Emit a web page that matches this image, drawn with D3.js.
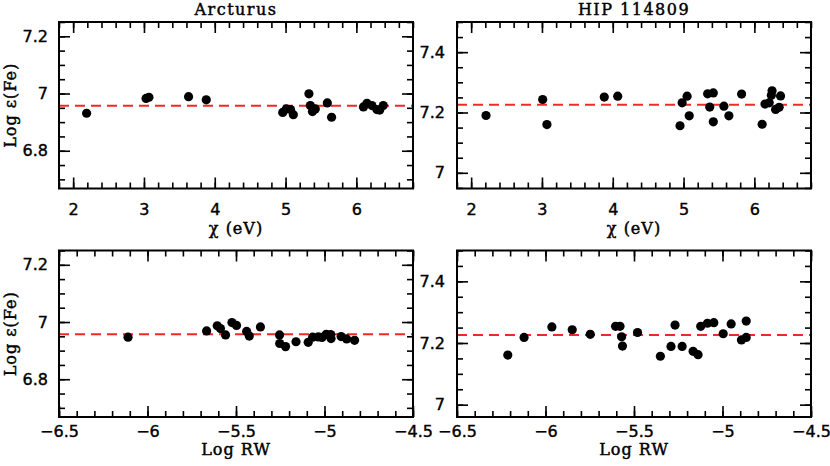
<!DOCTYPE html>
<html>
<head>
<meta charset="utf-8">
<script src="https://cdnjs.cloudflare.com/ajax/libs/d3/7.8.5/d3.min.js"></script>
<style>
  body { margin: 0; background: #fff; }
  .tick text { font-family: "DejaVu Sans", sans-serif; font-size: 16px; fill: #000; stroke: #000; stroke-width: 0.4px; }
  .lbl { font-family: "DejaVu Serif", serif; font-size: 16px; fill: #000; stroke: #000; stroke-width: 0.45px; }
</style>
</head>
<body>
<script>
(function(){

//Arcturus: excitation potential (eV) and Fe abundance
var arctChi   = [2.19, 3.03, 3.07, 3.63, 3.88, 4.96, 5.01, 5.07, 5.11, 5.33, 5.35,
                 5.38, 5.42, 5.59, 5.65, 6.10, 6.15, 6.22, 6.29, 6.33, 6.38];
var arctChiFe = [6.931, 6.983, 6.987, 6.989, 6.978, 6.934, 6.946, 6.944, 6.926, 6.999, 6.958,
                 6.937, 6.946, 6.967, 6.917, 6.953, 6.966, 6.958, 6.944, 6.942, 6.958];

//Arcturus: reduced equivalent width and Fe abundance
var arctRW   = [-6.11, -5.666, -5.606, -5.588, -5.559, -5.523, -5.497, -5.440, -5.425, -5.362,
                -5.254, -5.253, -5.220, -5.161, -5.092, -5.067, -5.035, -5.014, -4.990,
                -4.965, -4.963, -4.906, -4.875, -4.830];
var arctRWFe = [6.947, 6.969, 6.987, 6.977, 6.955, 6.998, 6.988, 6.967, 6.951, 6.983,
                6.955, 6.925, 6.914, 6.931, 6.929, 6.947, 6.948, 6.946, 6.957,
                6.956, 6.942, 6.949, 6.941, 6.936];

//HIP 114809: excitation potential (eV) and Fe abundance
var hipChi   = [2.21, 3.01, 3.07, 3.88, 4.07, 4.95, 4.98, 5.05, 5.08, 5.34, 5.37, 5.42,
                5.42, 5.57, 5.64, 5.82, 6.11, 6.15, 6.21, 6.24, 6.25, 6.30, 6.35, 6.37];
var hipChiFe = [7.190, 7.243, 7.160, 7.251, 7.254, 7.156, 7.232, 7.254, 7.189, 7.262, 7.218, 7.265,
                7.169, 7.221, 7.189, 7.261, 7.161, 7.228, 7.232, 7.257, 7.272, 7.210, 7.217, 7.255];

//HIP 114809: reduced equivalent width and Fe abundance
var hipRW   = [-6.213, -6.121, -5.964, -5.849, -5.747, -5.604, -5.579, -5.570, -5.565, -5.480,
               -5.351, -5.291, -5.268, -5.228, -5.166, -5.138, -5.123, -5.085, -5.049,
               -4.996, -4.951, -4.893, -4.866, -4.866];
var hipRWFe = [7.161, 7.218, 7.252, 7.243, 7.228, 7.254, 7.254, 7.220, 7.190, 7.234,
               7.157, 7.189, 7.258, 7.189, 7.173, 7.162, 7.254, 7.264, 7.266,
               7.230, 7.262, 7.210, 7.271, 7.218];

//mean abundances (dashed lines)
var arctMean = 6.957,
    hipMean = 7.226;

//tick labels
var chiTicks  = [2, 3, 4, 5, 6],
    rwTicks   = [-6.5, -6, -5.5, -5, -4.5],
    arctTicks = [6.8, 7, 7.2],
    hipTicks  = [7, 7.2, 7.4];

var width = 830,
    height = 466;

var svg = d3.select("body")
    .append("svg")
    .attr("width", width)
    .attr("height", height);

//one entry per panel
var panels = [
    {x0: 59, y0: 22, xDom: [1.8, 6.8], yDom: [6.668, 7.25], xs: arctChi, ys: arctChiFe,
     mean: arctMean, xTicks: chiTicks, xMinor: 0.2, yTicks: arctTicks, pad: 15,
     title: "Arcturus", xLabel: "\u03c7 (eV)", xLabelY: 234, yLabel: true},
    {x0: 457, y0: 22, xDom: [1.8, 6.8], yDom: [6.948, 7.5], xs: hipChi, ys: hipChiFe,
     mean: hipMean, xTicks: chiTicks, xMinor: 0.2, yTicks: hipTicks, pad: 15,
     title: "HIP 114809", xLabel: "\u03c7 (eV)", xLabelY: 234, yLabel: false},
    {x0: 59, y0: 250.5, xDom: [-6.5, -4.5], yDom: [6.668, 7.25], xs: arctRW, ys: arctRWFe,
     mean: arctMean, xTicks: rwTicks, xMinor: 0.1, yTicks: arctTicks, pad: 9,
     title: null, xLabel: "Log RW", xLabelY: 455, yLabel: true},
    {x0: 457, y0: 250.5, xDom: [-6.5, -4.5], yDom: [6.96, 7.5], xs: hipRW, ys: hipRWFe,
     mean: hipMean, xTicks: rwTicks, xMinor: 0.1, yTicks: hipTicks, pad: 9,
     title: null, xLabel: "Log RW", xLabelY: 455, yLabel: false}
];

var pw = 354, ph = 166.5;

panels.forEach(drawPanel);

//list of minor tick values inside a domain
function minorTicks(dom, step){
    var out = [];
    var start = Math.ceil(dom[0] / step - 1e-6);
    for (var i = start; i * step <= dom[1] + 1e-6; i++){
        out.push(+(i * step).toFixed(4));
    }
    return out;
}

function drawPanel(p){
    var g = svg.append("g").attr("transform", "translate(" + p.x0 + "," + p.y0 + ")");

    var x = d3.scaleLinear().domain(p.xDom).range([0, pw]);
    var y = d3.scaleLinear().domain(p.yDom).range([ph, 0]);

    var xMin = minorTicks(p.xDom, p.xMinor),
        yMin = minorTicks(p.yDom, 0.05);

    //inward ticks on all four sides: minor then major
    var sides = [
        {axis: d3.axisBottom, s: x, t: "translate(0," + ph + ")", min: xMin, maj: p.xTicks},
        {axis: d3.axisTop,    s: x, t: "translate(0,0)",         min: xMin, maj: p.xTicks},
        {axis: d3.axisLeft,   s: y, t: "translate(0,0)",         min: yMin, maj: p.yTicks},
        {axis: d3.axisRight,  s: y, t: "translate(" + pw + ",0)", min: yMin, maj: p.yTicks}
    ];
    sides.forEach(function(sd){
        [[sd.min, -6], [sd.maj, -11]].forEach(function(m){
            var a = g.append("g")
                .attr("transform", sd.t)
                .call(sd.axis(sd.s).tickValues(m[0]).tickSize(m[1]).tickFormat(""));
            a.select(".domain").remove();
            a.selectAll("line").attr("stroke", "#000").attr("stroke-width", 1.6);
        });
    });

    //tick labels
    var fmt = d3.format("~g");
    g.append("g")
        .attr("transform", "translate(0," + ph + ")")
        .call(d3.axisBottom(x).tickValues(p.xTicks).tickSize(0).tickPadding(p.pad).tickFormat(fmt))
        .call(function(a){ a.select(".domain").remove(); });
    g.append("g")
        .call(d3.axisLeft(y).tickValues(p.yTicks).tickSize(0).tickPadding(p.yLabel ? 11 : 12).tickFormat(fmt))
        .call(function(a){ a.select(".domain").remove(); });

    //mean abundance
    g.append("line")
        .attr("x1", 0)
        .attr("x2", pw)
        .attr("y1", y(p.mean))
        .attr("y2", y(p.mean))
        .attr("stroke", "#f02828")
        .attr("stroke-width", 2)
        .attr("stroke-dasharray", "10,6");

    //points
    g.selectAll(".dot")
        .data(p.xs)
        .enter()
        .append("circle")
        .attr("class", "dot")
        .attr("cx", function(d){ return x(d); })
        .attr("cy", function(d, i){ return y(p.ys[i]); })
        .attr("r", 4.6)
        .attr("fill", "#000");

    //frame
    g.append("rect")
        .attr("width", pw)
        .attr("height", ph)
        .attr("fill", "none")
        .attr("stroke", "#000")
        .attr("stroke-width", 2);

    if (p.title){
        svg.append("text")
            .attr("class", "lbl")
            .attr("x", p.x0 + pw / 2)
            .attr("y", 15)
            .attr("text-anchor", "middle")
            .style("letter-spacing", "1.5px")
            .text(p.title);
    }

    svg.append("text")
        .attr("class", "lbl")
        .attr("x", p.x0 + pw / 2)
        .attr("y", p.xLabelY)
        .attr("text-anchor", "middle")
        .style("letter-spacing", "1px")
        .text(p.xLabel);

    if (p.yLabel){
        svg.append("text")
            .attr("class", "lbl")
            .attr("text-anchor", "middle")
            .attr("transform", "translate(16," + (p.y0 + ph / 2) + ") rotate(-90)")
            .style("letter-spacing", "1px")
            .text("Log \u03b5(Fe)");
    }
}

})();
</script>
</body>
</html>
